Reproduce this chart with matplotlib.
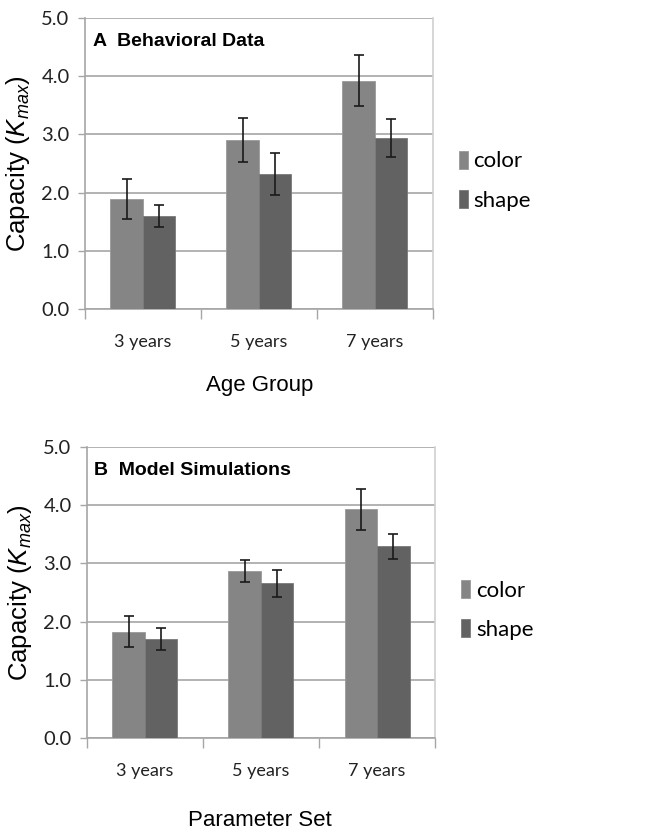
import matplotlib
matplotlib.use("Agg")
import matplotlib.pyplot as plt
from matplotlib import font_manager
import numpy as np

categories = ["3 years", "5 years", "7 years"]
series = ["color", "shape"]
beh_color = [1.89, 2.90, 3.92]
beh_shape = [1.60, 2.32, 2.94]
beh_color_err = [0.34, 0.38, 0.44]
beh_shape_err = [0.19, 0.355, 0.33]
sim_color = [1.83, 2.87, 3.93]
sim_shape = [1.71, 2.66, 3.29]
sim_color_err = [0.26, 0.185, 0.35]
sim_shape_err = [0.19, 0.23, 0.21]
yticks = [0.0, 1.0, 2.0, 3.0, 4.0, 5.0]

plt.rcParams['mathtext.fontset'] = 'custom'
plt.rcParams['mathtext.it'] = 'Liberation Sans:italic'
plt.rcParams['mathtext.rm'] = 'Liberation Sans'

names = {f.name for f in font_manager.fontManager.ttflist}
title_family = 'Liberation Sans Narrow' if 'Liberation Sans Narrow' in names else 'Liberation Sans'
title_size = 16.5 if title_family == 'Liberation Sans Narrow' else 14

fig = plt.figure(figsize=(6.48, 8.34), dpi=100)
ax1 = fig.add_axes([0.131, 0.6295, 0.537, 0.349])
ax2 = fig.add_axes([0.134, 0.1147, 0.5375, 0.3497])

c_color = '#858585'
c_shape = '#626262'
grid_c = '#a6a6a6'
tickfont = 'Lato'

def panel(ax, cv, sv, ce, se, title, xlabel, xlabel_y):
    x = np.arange(len(categories))
    w = 0.28
    ax.bar(x - w/2, cv, w, color=c_color, edgecolor='#9a9a9a', linewidth=0.6, label=series[0], zorder=3)
    ax.bar(x + w/2, sv, w, color=c_shape, edgecolor='#7a7a7a', linewidth=0.6, label=series[1], zorder=3)
    ax.errorbar(x - w/2, cv, yerr=ce, fmt='none', ecolor='#1a1a1a', elinewidth=1.2, capsize=3.5, capthick=1.2, zorder=4)
    ax.errorbar(x + w/2, sv, yerr=se, fmt='none', ecolor='#1a1a1a', elinewidth=1.2, capsize=3.5, capthick=1.2, zorder=4)
    ax.set_xlim(-0.5, 2.5)
    ax.set_ylim(0, 5)
    ax.set_yticks(yticks)
    ax.set_yticklabels([f"{v:.1f}" for v in yticks], fontsize=14.5, family=tickfont, color='#222222')
    ax.set_xticks([-0.5, 0.5, 1.5, 2.5])
    ax.set_xticklabels([])
    ax.set_xticks(x, minor=True)
    ax.set_xticklabels(categories, minor=True, fontsize=13, family=tickfont, color='#222222')
    ax.tick_params(axis='x', which='minor', length=0, pad=18)
    ax.tick_params(axis='x', which='major', length=7, color=grid_c, width=1)
    ax.tick_params(axis='y', length=5, color=grid_c, width=1, pad=6)
    ax.yaxis.grid(True, color=grid_c, linewidth=1.2, zorder=0)
    ax.set_axisbelow(True)
    for s in ['left', 'bottom', 'right']:
        ax.spines[s].set_color(grid_c)
        ax.spines[s].set_linewidth(1.2)
    ax.spines['right'].set_color('#d0d0d0')
    ax.spines['top'].set_visible(False)
    ax.text(0.022, 0.92, title, transform=ax.transAxes, fontsize=title_size, fontweight='bold',
            family=title_family, va='center', ha='left')
    ax.set_ylabel(r'Capacity ($K_{max}$)', fontsize=18.5, family='Liberation Sans')
    ax.yaxis.set_label_coords(-0.152, 0.5)
    ax.legend(loc='center left', bbox_to_anchor=(1.05, 0.44), frameon=False,
              prop={'family': tickfont, 'size': 16}, handlelength=0.4, handleheight=0.85,
              handletextpad=0.25, labelspacing=0.85, borderaxespad=0)
    fig.text(0.401, xlabel_y, xlabel, fontsize=16, family='Liberation Sans', ha='center', va='center')

panel(ax1, beh_color, beh_shape, beh_color_err, beh_shape_err, "A  Behavioral Data", "Age Group", 1 - 385/834)
panel(ax2, sim_color, sim_shape, sim_color_err, sim_shape_err, "B  Model Simulations", "Parameter Set", 1 - 821/834)

fig.savefig("out.png", dpi=100)
